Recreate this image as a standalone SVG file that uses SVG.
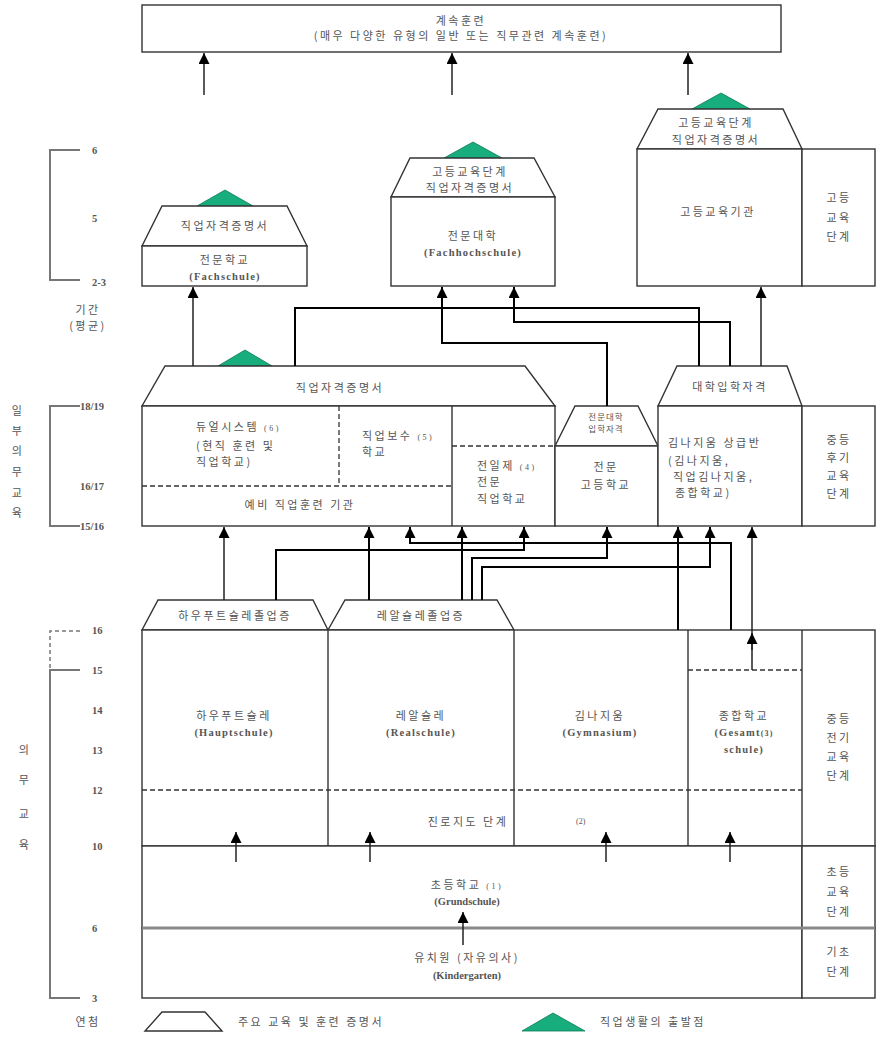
<svg xmlns="http://www.w3.org/2000/svg" width="891" height="1042" viewBox="0 0 891 1042">
<defs>
<marker id="ah" markerUnits="userSpaceOnUse" markerWidth="11" markerHeight="11" refX="10" refY="5" orient="auto" viewBox="0 0 10 10">
<path d="M0,0 L10,5 L0,10 z" fill="#000"/>
</marker>
<style>
.b{fill:#fff;stroke:#333;stroke-width:1.4}
.ln{fill:none;stroke:#333;stroke-width:1.4}
.ds{fill:none;stroke:#333;stroke-width:1.3;stroke-dasharray:5,3}
.sc{fill:none;stroke:#777;stroke-width:2}
.g{fill:#17ad7c;stroke:#0d7a55;stroke-width:0.8}
.k{font-family:"Noto Sans CJK KR","Noto Sans",sans-serif;font-size:11px;fill:#555;letter-spacing:2.5px}
.ks{font-family:"Noto Sans CJK KR","Noto Sans",sans-serif;font-size:8.5px;fill:#555;letter-spacing:1px}
.l{font-family:"Liberation Serif",serif;font-size:10.5px;font-weight:bold;fill:#555;letter-spacing:1.2px}
.n{font-family:"Liberation Serif",serif;font-size:10.5px;font-weight:bold;fill:#555}
.sup{font-family:"Liberation Serif",serif;font-size:8px;fill:#555}
.m{text-anchor:middle}
.c{fill:none;stroke:#000;stroke-width:2}
.t{fill:none;stroke:#222;stroke-width:1.5}
</style>
</defs>

<!-- Scale labels -->
<g id="scale">
<path class="sc" d="M80,150 H50 V280 H80"/>
<text class="n" x="92" y="154">6</text>
<text class="n" x="92" y="222">5</text>
<text class="n" x="92" y="286">2-3</text>
<text class="k m" x="88" y="314">기간</text>
<text class="k m" x="88" y="330">(평균)</text>
<path class="sc" d="M80,406 H50 V526 H80"/>
<text class="n" x="80" y="410">18/19</text>
<text class="n" x="80" y="490">16/17</text>
<text class="n" x="80" y="530">15/16</text>
<g class="k m">
<text x="18" y="415">일</text><text x="18" y="435">부</text><text x="18" y="455">의</text><text x="18" y="476">무</text><text x="18" y="497">교</text><text x="18" y="517">육</text>
</g>
<path fill="none" stroke="#777" stroke-width="1.5" stroke-dasharray="4,3" d="M80,631 H50 V670"/>
<path class="sc" d="M80,670 H50 V998 H80"/>
<text class="n" x="92" y="634">16</text>
<text class="n" x="92" y="674">15</text>
<text class="n" x="92" y="714">14</text>
<text class="n" x="92" y="754">13</text>
<text class="n" x="92" y="794">12</text>
<text class="n" x="92" y="850">10</text>
<text class="n" x="92" y="932">6</text>
<text class="n" x="92" y="1002">3</text>
<g class="k m">
<text x="25" y="754">의</text><text x="25" y="784">무</text><text x="25" y="818">교</text><text x="25" y="849">육</text>
</g>
</g>

<!-- Continuing training -->
<g id="weiterbildung">
<rect class="b" x="142" y="5" width="639" height="47"/>
<text class="k m" x="461" y="25">계속훈련</text>
<text class="k m" x="461" y="40">(매우 다양한 유형의 일반 또는 직무관련 계속훈련)</text>
</g>

<!-- Fachschule -->
<g id="fachschule">
<polygon class="g" points="197,206 225,190 253,206"/>
<polygon class="b" points="162,206 287,206 307,246 142,246"/>
<text class="k m" x="225" y="230">직업자격증명서</text>
<rect class="b" x="142" y="246" width="165" height="40"/>
<text class="k m" x="225" y="264">전문학교</text>
<text class="l m" x="225" y="280">(Fachschule)</text>
</g>

<!-- Fachhochschule -->
<g id="fachhochschule">
<polygon class="g" points="444,158 473,142 502,158"/>
<polygon class="b" points="410,158 534,158 555,197 391,197"/>
<text class="k m" x="470" y="176">고등교육단계</text>
<text class="k m" x="470" y="192">직업자격증명서</text>
<rect class="b" x="391" y="197" width="164" height="89"/>
<text class="k m" x="473" y="240">전문대학</text>
<text class="l m" x="473" y="256">(Fachhochschule)</text>
</g>

<!-- Hochschule -->
<g id="hochschule">
<polygon class="g" points="692,109 721,93 750,109"/>
<polygon class="b" points="658,109 783,109 802,149 637,149"/>
<text class="k m" x="716" y="127">고등교육단계</text>
<text class="k m" x="716" y="144">직업자격증명서</text>
<rect class="b" x="637" y="149" width="165" height="137"/>
<text class="k m" x="718" y="216">고등교육기관</text>
<rect class="b" x="802" y="149" width="73" height="137"/>
<text class="k m" x="839" y="202">고등</text>
<text class="k m" x="839" y="222">교육</text>
<text class="k m" x="839" y="241">단계</text>
</g>

<!-- Vocational (dual system etc.) -->
<g id="berufsbildung">
<polygon class="g" points="218,366 245,350 272,366"/>
<polygon class="b" points="165,366 525,366 555,406 142,406"/>
<text class="k m" x="340" y="392">직업자격증명서</text>
<rect class="b" x="142" y="406" width="413" height="120"/>
<path class="ds" d="M339,406 V486"/>
<path class="ln" d="M452,406 V526"/>
<path class="ds" d="M142,486 H452"/>
<path class="ds" d="M452,446 H555"/>
<text class="k" x="196" y="431">듀얼시스템 <tspan class="sup">(6)</tspan></text>
<text class="k" x="196" y="450">(현직 훈련 및</text>
<text class="k" x="196" y="466">직업학교)</text>
<text class="k" x="362" y="440">직업보수 <tspan class="sup">(5)</tspan></text>
<text class="k" x="362" y="456">학교</text>
<text class="k" x="477" y="470">전일제 <tspan class="sup">(4)</tspan></text>
<text class="k" x="477" y="486">전문</text>
<text class="k" x="477" y="503">직업학교</text>
<text class="k m" x="300" y="509">예비 직업훈련 기관</text>
</g>

<!-- Fachoberschule -->
<g id="fachoberschule">
<polygon class="b" points="575,406 638,406 658,446 555,446"/>
<text class="ks m" x="606" y="420">전문대학</text>
<text class="ks m" x="606" y="432">입학자격</text>
<rect class="b" x="555" y="446" width="103" height="80"/>
<text class="k m" x="606" y="471">전문</text>
<text class="k m" x="606" y="489">고등학교</text>
</g>

<!-- Gymnasiale Oberstufe -->
<g id="oberstufe">
<polygon class="b" points="677,366 787,366 802,406 658,406"/>
<text class="k m" x="730" y="391">대학입학자격</text>
<rect class="b" x="658" y="406" width="144" height="120"/>
<text class="k" x="668" y="447">김나지움 상급반</text>
<text class="k" x="668" y="465">(김나지움,</text>
<text class="k" x="673" y="481">직업김나지움,</text>
<text class="k" x="675" y="497">종합학교)</text>
<rect class="b" x="802" y="406" width="73" height="120"/>
<text class="k m" x="839" y="444">중등</text>
<text class="k m" x="839" y="462">후기</text>
<text class="k m" x="839" y="480">교육</text>
<text class="k m" x="839" y="498">단계</text>
</g>

<!-- Lower secondary -->
<g id="sekundar1">
<polygon class="b" points="158,600 313,600 328,630 142,630"/>
<text class="k m" x="235" y="620">하우푸트슐레졸업증</text>
<polygon class="b" points="345,600 497,600 514,630 328,630"/>
<text class="k m" x="421" y="620">레알슐레졸업증</text>
<rect class="b" x="142" y="630" width="733" height="216"/>
<path class="ln" d="M328,630 V846 M514,630 V846 M688,630 V846 M802,630 V846"/>
<path class="ds" d="M142,790 H802"/>
<path class="ds" d="M688,670 H802"/>
<text class="k m" x="234" y="720">하우푸트슐레</text>
<text class="l m" x="234" y="736">(Hauptschule)</text>
<text class="k m" x="421" y="720">레알슐레</text>
<text class="l m" x="421" y="736">(Realschule)</text>
<text class="k m" x="600" y="720">김나지움</text>
<text class="l m" x="600" y="736">(Gymnasium)</text>
<text class="k m" x="744" y="720">종합학교</text>
<text class="l m" x="744" y="736">(Gesamt<tspan class="sup">(3)</tspan></text>
<text class="l m" x="744" y="753">schule)</text>
<text class="k m" x="468" y="826">진로지도 단계</text>
<text class="sup" x="576" y="824">(2)</text>
<text class="k m" x="839" y="723">중등</text>
<text class="k m" x="839" y="742">전기</text>
<text class="k m" x="839" y="761">교육</text>
<text class="k m" x="839" y="780">단계</text>
</g>

<!-- Primary -->
<g id="grundschule">
<rect class="b" x="142" y="846" width="660" height="82"/>
<rect class="b" x="802" y="846" width="73" height="82"/>
<text class="k m" x="467" y="889">초등학교 <tspan class="sup">(1)</tspan></text>
<text class="n m" x="467" y="905">(Grundschule)</text>
<text class="k m" x="839" y="876">초등</text>
<text class="k m" x="839" y="896">교육</text>
<text class="k m" x="839" y="916">단계</text>
</g>

<!-- Kindergarten -->
<g id="kindergarten">
<rect class="b" x="142" y="928" width="660" height="70"/>
<rect class="b" x="802" y="928" width="73" height="70"/>
<line x1="142" y1="928" x2="875" y2="928" stroke="#888" stroke-width="3"/>
<text class="k m" x="467" y="962">유치원 (자유의사)</text>
<text class="n m" x="467" y="979">(Kindergarten)</text>
<text class="k m" x="839" y="956">기초</text>
<text class="k m" x="839" y="976">단계</text>
</g>

<!-- Connectors -->
<g id="connectors">
<path class="t" marker-end="url(#ah)" d="M204,95 V53"/>
<path class="t" marker-end="url(#ah)" d="M452,95 V53"/>
<path class="t" marker-end="url(#ah)" d="M688,95 V53"/>
<path class="t" marker-end="url(#ah)" d="M193,366 V287"/>
<path class="c" d="M295,366 V308 H699 V366"/>
<path class="c" marker-end="url(#ah)" d="M730,366 V322 H514 V287"/>
<path class="c" marker-end="url(#ah)" d="M607,406 V343 H442 V287"/>
<path class="t" marker-end="url(#ah)" d="M761,366 V287"/>
<path class="t" marker-end="url(#ah)" d="M224,600 V527"/>
<path class="c" marker-end="url(#ah)" d="M276,600 V550 H524 V527"/>
<path class="c" marker-end="url(#ah)" d="M369,600 V527"/>
<path class="c" marker-end="url(#ah)" d="M731,630 V543 H410 V527"/>
<path class="c" marker-end="url(#ah)" d="M462,600 V527"/>
<path class="c" marker-end="url(#ah)" d="M472,600 V558 H607 V527"/>
<path class="c" marker-end="url(#ah)" d="M482,600 V567 H710 V527"/>
<path class="c" marker-end="url(#ah)" d="M678,630 V527"/>
<path class="t" marker-end="url(#ah)" d="M752,670 V527"/>
<path class="t" marker-end="url(#ah)" d="M752,650 V633"/>
<path class="t" marker-end="url(#ah)" d="M236,862 V832"/>
<path class="t" marker-end="url(#ah)" d="M370,862 V832"/>
<path class="t" marker-end="url(#ah)" d="M606,862 V832"/>
<path class="t" marker-end="url(#ah)" d="M730,862 V832"/>
<path class="t" marker-end="url(#ah)" d="M463,945 V912"/>
</g>

<!-- Legend -->
<g id="legend">
<text class="k m" x="88" y="1026">연첨</text>
<polygon class="b" points="162,1012 205,1012 222,1031 145,1031"/>
<text class="k" x="238" y="1026">주요 교육 및 훈련 증명서</text>
<polygon class="g" points="522,1031 553,1013 585,1031"/>
<text class="k" x="600" y="1026">직업생활의 출발점</text>
</g>
</svg>
